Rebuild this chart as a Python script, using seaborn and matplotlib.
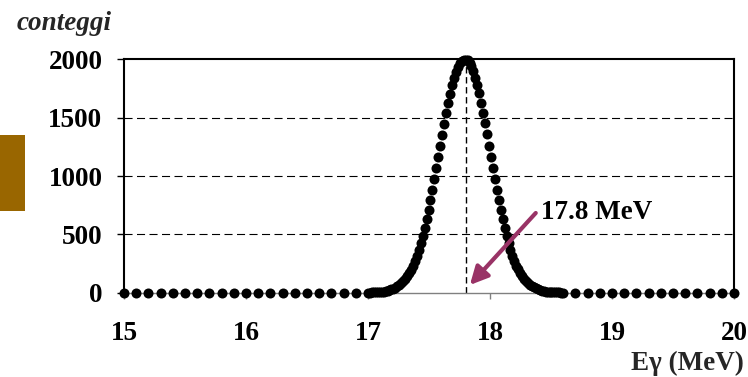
import numpy as np
import pandas as pd
import matplotlib
matplotlib.use("Agg")
import matplotlib.pyplot as plt
from matplotlib.patches import Rectangle
import seaborn as sns

# --- spectrum data -------------------------------------------------------
# coarse sampling below the line
energy_low = [15.0, 15.1, 15.2, 15.3, 15.4, 15.5, 15.6, 15.7, 15.8, 15.9,
              16.0, 16.1, 16.2, 16.3, 16.4, 16.5, 16.6, 16.7, 16.8, 16.9]
counts_low = [0] * len(energy_low)

# fine sampling across the 17.8 MeV line
energy_peak = [
    17.000, 17.016, 17.032, 17.048, 17.064, 17.080, 17.096, 17.112, 17.128, 17.144,
    17.160, 17.176, 17.192, 17.208, 17.224, 17.240, 17.256, 17.272, 17.288, 17.304,
    17.320, 17.336, 17.352, 17.368, 17.384, 17.400, 17.416, 17.432, 17.448, 17.464,
    17.480, 17.496, 17.512, 17.528, 17.544, 17.560, 17.576, 17.592, 17.608, 17.624,
    17.640, 17.656, 17.672, 17.688, 17.704, 17.720, 17.736, 17.752, 17.768, 17.784,
    17.800,
    17.816, 17.832, 17.848, 17.864, 17.880, 17.896, 17.912, 17.928, 17.944, 17.960,
    17.976, 17.992, 18.008, 18.024, 18.040, 18.056, 18.072, 18.088, 18.104, 18.120,
    18.136, 18.152, 18.168, 18.184, 18.200, 18.216, 18.232, 18.248, 18.264, 18.280,
    18.296, 18.312, 18.328, 18.344, 18.360, 18.376, 18.392, 18.408, 18.424, 18.440,
    18.456, 18.472, 18.488, 18.504, 18.520, 18.536, 18.552, 18.568, 18.584, 18.600]
counts_peak = [
    1, 1, 2, 2, 3, 4, 5, 7, 9, 13,
    17, 22, 28, 35, 44, 54, 66, 82, 100, 120,
    145, 170, 198, 232, 272, 316, 367, 424, 486, 555,
    628, 707, 791, 879, 971, 1065, 1162, 1258, 1355, 1449,
    1539, 1625, 1706, 1778, 1842, 1895, 1938, 1970, 1989, 1995,
    1998,
    1990, 1972, 1940, 1897, 1843, 1780, 1707, 1626, 1540, 1450,
    1356, 1259, 1163, 1066, 972, 880, 792, 708, 629, 556,
    487, 425, 368, 317, 273, 233, 199, 171, 146, 121,
    101, 83, 67, 55, 45, 36, 29, 23, 18, 14,
    10, 8, 6, 5, 4, 3, 2, 2, 1, 1]

# coarse sampling above the line
energy_high = [18.7, 18.8, 18.9, 19.0, 19.1, 19.2, 19.3, 19.4, 19.5, 19.6,
               19.7, 19.8, 19.9, 20.0]
counts_high = [0] * len(energy_high)

line_energy = 17.8
line_label = "17.8 MeV"

x_ticks = [15, 16, 17, 18, 19, 20]
y_ticks = [0, 500, 1000, 1500, 2000]
grid_levels = [500, 1000, 1500]

spectrum = pd.DataFrame({
    "energy": energy_low + energy_peak + energy_high,
    "counts": counts_low + counts_peak + counts_high,
})

# --- style ---------------------------------------------------------------
sns.set_theme(style="ticks")
plt.rcParams["font.family"] = ["Liberation Serif", "DejaVu Serif"]
plt.rcParams["font.weight"] = "bold"
plt.rcParams["lines.scale_dashes"] = False

fig = plt.figure(figsize=(7.48, 3.77), dpi=100)
ax = fig.add_axes([124 / 748, 1 - 292.7 / 377, (734 - 124) / 748, (292.7 - 59.3) / 377])

# dashed horizontal guides
ax.hlines(grid_levels, 15, 20, colors="black", linewidth=0.8,
          linestyles=[(0, (5.8, 3.2))], zorder=1)

# line position marker
ax.vlines(line_energy, 0, max(counts_peak), colors="black", linewidth=1.0,
          linestyles=[(0, (4.6, 2.6))], zorder=2)

sns.scatterplot(data=spectrum, x="energy", y="counts", color="black",
                s=52, linewidth=0, ax=ax, clip_on=False, legend=False, zorder=5)

# arrow and label for the line energy
ax.annotate("", xy=(17.835, 66), xytext=(18.375, 683),
            arrowprops=dict(arrowstyle="-|>,head_length=0.9,head_width=0.45",
                            color="#993366", lw=3, shrinkA=0, shrinkB=0),
            zorder=6)
ax.text(18.42, 690, line_label, ha="left", va="center", fontsize=19.5,
        fontweight="bold", color="black", zorder=7)

ax.set_xlim(15, 20)
ax.set_ylim(0, 2000)
ax.set_xticks(x_ticks)
ax.set_yticks(y_ticks)
ax.set_xticklabels([str(v) for v in x_ticks], fontsize=19.5, fontweight="bold")
ax.set_yticklabels([str(v) for v in y_ticks], fontsize=19.5, fontweight="bold")
ax.set_xlabel("")
ax.set_ylabel("")

ax.tick_params(axis="x", bottom=True, direction="out", length=4.5, width=1.0,
               color="#808080", labelcolor="black", pad=16)
ax.tick_params(axis="y", left=True, direction="out", length=5, width=1.0,
               color="black", labelcolor="black", pad=10.5)

for side in ("left", "top", "right"):
    ax.spines[side].set_visible(True)
    ax.spines[side].set_color("black")
    ax.spines[side].set_linewidth(1.5)
ax.spines["bottom"].set_color("#808080")
ax.spines["bottom"].set_linewidth(1.0)

# axis titles
fig.text(16.7 / 748, 1 - 30 / 377, "conteggi", fontsize=19.5, fontweight="bold",
         fontstyle="italic", ha="left", va="baseline")
fig.text(744 / 748, 1 - 369.5 / 377, "Eγ (MeV)", fontsize=19.5, fontweight="bold",
         ha="right", va="baseline")

# side tab
fig.add_artist(Rectangle((0, 1 - 210.7 / 377), 25 / 748, 75.7 / 377,
                         transform=fig.transFigure, facecolor="#996600",
                         edgecolor="none"))

fig.savefig("out.png", dpi=100)
